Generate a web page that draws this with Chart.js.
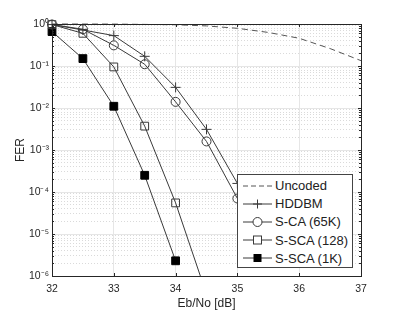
<!DOCTYPE html>
<html lang="en">
<head>
  <meta charset="UTF-8" />
  <title>FER vs Eb/No</title>
  <style>
    body {
      margin: 0;
      background: #fff;
      font-family: "Liberation Sans", Arial, sans-serif;
    }
    .wrap {
      position: relative;
      width: 399px;
      height: 312px;
    }
    #legend {
      position: absolute;
      left: 237px;
      top: 174px;
      width: 116px;
      height: 94px;
      box-sizing: border-box;
      background: #fff;
      border: 1px solid #444;
      font-size: 13px;
      color: #222;
    }
    .row {
      position: absolute;
      left: 5px;
      height: 18px;
      line-height: 18px;
      white-space: nowrap;
    }
    .row svg {
      vertical-align: middle;
      margin-right: 2px;
      position: relative;
      top: -1px;
    }
  </style>
</head>
<body>
  <div class="wrap">
    <canvas id="grafico" width="399" height="312"></canvas>
    <div id="legend"></div>
  </div>

  <script src="https://cdn.jsdelivr.net/npm/chart.js"></script>
  <script>
    // valores
    const ebno = [32, 32.5, 33, 33.5, 34, 34.5, 35];
    const uncodedEbno = [32, 33, 34, 34.5, 35, 35.5, 36, 36.5, 37];
    const uncodedFer = [1, 0.995, 0.96, 0.9, 0.79, 0.63, 0.457, 0.26, 0.134];
    const hddbmFer = [0.97, 0.72, 0.53, 0.17, 0.031, 0.0031, 1.6e-4];
    const scaFer = [0.97, 0.75, 0.31, 0.11, 0.014, 0.0016, 7e-5];
    const ssca128Fer = [0.97, 0.6, 0.095, 0.0037, 5.5e-5, 3.7e-7];
    const ssca1kFer = [0.66, 0.15, 0.011, 2.5e-4, 2.3e-6];
    const seriesNames = ['Uncoded', 'HDDBM', 'S-CA (65K)', 'S-SCA (128)', 'S-SCA (1K)'];
    const xTicks = [32, 33, 34, 35, 36, 37];
    const yDecades = [1e-6, 1e-5, 1e-4, 1e-3, 1e-2, 1e-1, 1];

    const FONT = '"Liberation Sans", Arial, sans-serif';
    const LINE = '#3a3a3a';

    function pontos(xs, ys) {
      return ys.map((y, i) => ({ x: xs[i], y }));
    }

    const minorTicks = [];
    yDecades.slice(0, -1).forEach(d => {
      for (let k = 2; k <= 9; k++) minorTicks.push(d * k);
    });

    const sup = { '0': '⁰', '1': '¹', '2': '²', '3': '³', '4': '⁴', '5': '⁵', '6': '⁶', '-': '⁻' };
    function potencia(v) {
      const e = String(Math.round(Math.log10(v)));
      return '10' + e.split('').map(c => sup[c]).join('');
    }

    const clip = { left: 8, top: 8, right: 0, bottom: 0 };
    const base = { borderColor: LINE, borderWidth: 1, backgroundColor: '#fff', pointBorderColor: LINE,
                   pointBorderWidth: 1, pointHoverRadius: 5, clip: clip, tension: 0 };

    const datasets = [
      Object.assign({}, base, { label: seriesNames[0], data: pontos(uncodedEbno, uncodedFer),
        borderColor: '#555', borderDash: [6, 4], pointRadius: 0 }),
      Object.assign({}, base, { label: seriesNames[1], data: pontos(ebno, hddbmFer),
        pointStyle: 'cross', pointRadius: 5 }),
      Object.assign({}, base, { label: seriesNames[2], data: pontos(ebno, scaFer),
        pointStyle: 'circle', pointRadius: 4.5, pointBackgroundColor: 'rgba(255,255,255,0)' }),
      Object.assign({}, base, { label: seriesNames[3], data: pontos(ebno, ssca128Fer),
        pointStyle: 'rect', pointRadius: 5.5, pointBackgroundColor: 'rgba(255,255,255,0)' }),
      Object.assign({}, base, { label: seriesNames[4], data: pontos(ebno, ssca1kFer),
        pointStyle: 'rect', pointRadius: 5.5, pointBackgroundColor: '#000', pointBorderColor: '#000' })
    ];

    // moldura e ticks internos, estilo matlab
    const caixa = {
      id: 'caixa',
      afterDatasetsDraw(chart) {
        const { ctx, chartArea: a, scales } = chart;
        ctx.save();
        ctx.strokeStyle = '#262626';
        ctx.lineWidth = 1;
        ctx.beginPath();
        xTicks.forEach(v => {
          const x = Math.round(scales.x.getPixelForValue(v)) + 0.5;
          ctx.moveTo(x, a.top); ctx.lineTo(x, a.top + 3);
          ctx.moveTo(x, a.bottom); ctx.lineTo(x, a.bottom - 3);
        });
        yDecades.concat(minorTicks).forEach(v => {
          const y = Math.round(scales.y.getPixelForValue(v)) + 0.5;
          const t = yDecades.includes(v) ? 3 : 2;
          ctx.moveTo(a.left, y); ctx.lineTo(a.left + t, y);
          ctx.moveTo(a.right, y); ctx.lineTo(a.right - t, y);
        });
        ctx.stroke();
        ctx.strokeRect(Math.round(a.left) + 0.5, Math.round(a.top) + 0.5,
                       Math.round(a.right - a.left), Math.round(a.bottom - a.top));
        ctx.restore();
      }
    };

    new Chart(document.getElementById('grafico'), {
      type: 'line',
      data: { datasets },
      options: {
        responsive: false,
        animation: false,
        devicePixelRatio: 1,
        layout: { padding: { top: 24, right: 38, left: 0, bottom: 0 } },
        plugins: { legend: { display: false }, tooltip: { enabled: false } },
        scales: {
          x: {
            type: 'linear', min: 32, max: 37,
            afterFit: s => { s.height = 36; },
            ticks: { stepSize: 1, padding: 7, color: '#262626', font: { family: FONT, size: 10.5 } },
            grid: { color: '#e6e6e6', drawTicks: false },
            border: { display: false },
            title: { display: true, text: 'Eb/No [dB]', color: '#262626',
                     font: { family: FONT, size: 12 }, padding: { top: 0, bottom: 1 } }
          },
          y: {
            type: 'logarithmic', min: 1e-6, max: 1,
            afterFit: s => { s.width = 52; },
            afterBuildTicks: s => { s.ticks = yDecades.map(v => ({ value: v })); },
            ticks: { padding: 3, color: '#262626', font: { family: FONT, size: 10.5 },
                     callback: v => potencia(v) },
            grid: { color: '#e6e6e6', drawTicks: false },
            border: { display: false },
            title: { display: true, text: 'FER', color: '#262626',
                     font: { family: FONT, size: 12 }, padding: { top: 13, bottom: 0 } }
          },
          y2: {
            type: 'logarithmic', min: 1e-6, max: 1, position: 'left',
            afterFit: s => { s.width = 0; },
            afterBuildTicks: s => { s.ticks = minorTicks.map(v => ({ value: v })); },
            ticks: { display: false },
            grid: { color: '#dadada', drawTicks: false },
            border: { display: false, dash: [1, 2] }
          }
        }
      },
      plugins: [caixa]
    });

    // legenda desenhada por cima, no canto inferior direito
    const amostras = [
      '<line x1="0" y1="6" x2="29" y2="6" stroke="#555" stroke-dasharray="5,3"/>',
      '<line x1="0" y1="6" x2="29" y2="6" stroke="#3a3a3a"/><path d="M14.5 1.5V10.5M10 6H19" stroke="#3a3a3a"/>',
      '<line x1="0" y1="6" x2="29" y2="6" stroke="#3a3a3a"/><circle cx="14.5" cy="6" r="4.5" fill="#fff" stroke="#3a3a3a"/>',
      '<line x1="0" y1="6" x2="29" y2="6" stroke="#3a3a3a"/><rect x="10.5" y="2" width="8" height="8" fill="#fff" stroke="#3a3a3a"/>',
      '<line x1="0" y1="6" x2="29" y2="6" stroke="#3a3a3a"/><rect x="10.5" y="2" width="8" height="8" fill="#000"/>'
    ];
    const legenda = document.getElementById('legend');
    seriesNames.forEach((nome, i) => {
      const div = document.createElement('div');
      div.className = 'row';
      div.style.top = (2 + i * 18.2) + 'px';
      div.innerHTML = `<svg width="30" height="12">${amostras[i]}</svg>${nome}`;
      legenda.appendChild(div);
    });
  </script>
</body>
</html>
